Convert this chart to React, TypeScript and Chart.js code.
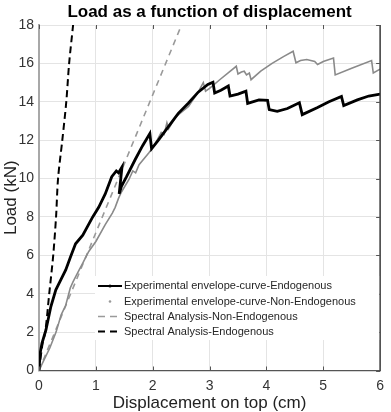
import { useEffect, useRef } from 'react';
import { Chart, registerables } from 'chart.js';

Chart.register(...registerables);

const FONT = '"Liberation Sans", Arial, Helvetica, sans-serif';

const titleText = 'Load as a function of displacement';
const xAxisTitle = 'Displacement on top (cm)';
const yAxisTitle = 'Load (kN)';

const xTicks = [0, 1, 2, 3, 4, 5, 6];
const yTicks = [0, 2, 4, 6, 8, 10, 12, 14, 16, 18];

const legendLabels = [
  'Experimental envelope-curve-Endogenous',
  'Experimental envelope-curve-Non-Endogenous',
  'Spectral Analysis-Non-Endogenous',
  'Spectral Analysis-Endogenous',
];

// Experimental envelope curve, endogenous specimen (cm, kN)
const expEndoX = [
  0, 0.02, 0.052, 0.122, 0.209, 0.296, 0.383, 0.47, 0.557, 0.643, 0.77, 0.945, 1.05, 1.165,
  1.28, 1.36, 1.4, 1.46, 1.41, 1.45, 1.54, 1.69, 1.82, 1.95, 1.98, 2.1, 2.28, 2.45, 2.63,
  2.8, 2.97, 3.06, 3.09, 3.2, 3.33, 3.36, 3.5, 3.64, 3.67, 3.87, 4.02, 4.05, 4.19, 4.37,
  4.58, 4.63, 4.9, 5.1, 5.32, 5.36, 5.6, 5.8, 6.0,
];
const expEndoY = [
  0, 0.9, 1.42, 2.11, 3.33, 4.2, 4.72, 5.24, 5.94, 6.6, 7.05, 8.0, 8.5, 9.2,
  10.1, 10.4, 10.3, 10.6, 9.2, 9.6, 10.1, 10.98, 11.7, 12.35, 11.55, 12.0, 12.72, 13.4, 13.94,
  14.5, 14.9, 15.02, 14.46, 14.6, 14.82, 14.3, 14.4, 14.55, 13.92, 14.1, 14.08, 13.59, 13.5, 13.65,
  13.95, 13.33, 13.7, 14.0, 14.28, 13.8, 14.1, 14.3, 14.4,
];

// Experimental envelope curve, non-endogenous specimen (cm, kN)
const expNonX = [
  0, 0.08, 0.19, 0.3, 0.39, 0.47, 0.55, 0.6, 0.7, 0.77, 0.875, 1.0, 1.165, 1.29, 1.34, 1.4,
  1.45, 1.58, 1.65, 1.7, 1.76, 1.93, 2.02, 2.15, 2.2, 2.25, 2.28, 2.4, 2.63, 2.8, 2.89, 2.93,
  3.0, 3.2, 3.47, 3.5, 3.56, 3.61, 3.65, 3.7, 3.73, 3.9, 4.1, 4.3, 4.47, 4.52, 4.6, 4.71,
  4.85, 4.9, 5.0, 5.18, 5.21, 5.5, 5.85, 5.88, 6.0,
];
const expNonY = [
  0, 0.5, 1.17, 2.0, 2.9, 3.4, 4.3, 4.63, 5.2, 5.59, 6.2, 6.72, 7.6, 8.2, 8.5, 8.98,
  9.3, 9.94, 10.4, 10.3, 10.72, 11.33, 11.68, 12.4, 12.3, 12.9, 12.6, 13.2, 13.76, 14.5, 15.0, 14.55,
  14.7, 15.2, 15.85, 15.45, 15.55, 15.59, 15.4, 15.5, 15.15, 15.6, 16.0, 16.35, 16.63, 16.03, 16.15, 16.2,
  16.1, 15.94, 16.1, 16.28, 15.4, 15.75, 16.15, 15.5, 15.7,
];

// Spectral analysis, non-endogenous model (cm, kN)
const specNonX = [0, 2.507];
const specNonY = [0, 18];

// Spectral analysis, endogenous model (cm, kN)
const specEndoX = [0, 0.064, 0.11, 0.18, 0.25, 0.3, 0.335, 0.41, 0.48, 0.53, 0.6];
const specEndoY = [0, 1.43, 2, 4, 6, 8, 10, 12, 14, 16, 18];

const toPoints = (xs: number[], ys: number[]) => xs.map((x, i) => ({ x, y: ys[i] }));

const decorPlugin = {
  id: 'decor',
  afterDraw(chart: any) {
    const { ctx, chartArea } = chart;
    const { left, right, top, bottom } = chartArea;
    const xs = chart.scales.x;
    const ys = chart.scales.y;
    ctx.save();

    // right frame line and inward tick marks
    ctx.strokeStyle = '#3a3a3a';
    ctx.lineWidth = 1.5;
    ctx.beginPath();
    ctx.moveTo(right, top);
    ctx.lineTo(right, bottom);
    ctx.stroke();
    ctx.lineWidth = 1;
    ctx.strokeStyle = '#555';
    ctx.beginPath();
    xTicks.forEach((v) => {
      const px = Math.round(xs.getPixelForValue(v)) + 0.5;
      ctx.moveTo(px, top);
      ctx.lineTo(px, top + 4);
      ctx.moveTo(px, bottom);
      ctx.lineTo(px, bottom - 4);
    });
    yTicks.forEach((v) => {
      const py = Math.round(ys.getPixelForValue(v)) + 0.5;
      ctx.moveTo(right, py);
      ctx.lineTo(right - 4, py);
    });
    ctx.stroke();

    // title
    ctx.fillStyle = '#000';
    ctx.font = `bold 17px ${FONT}`;
    ctx.textAlign = 'center';
    ctx.textBaseline = 'alphabetic';
    ctx.fillText(titleText, (left + right) / 2, 17);

    // legend
    const boxX = 95;
    const boxY = 276;
    ctx.fillStyle = '#fff';
    ctx.fillRect(boxX, boxY, right - boxX - 1, 64);
    const rows = [286, 301.5, 316.5, 331.5];
    const x0 = 98;
    const x1 = 122;
    const xc = (x0 + x1) / 2;

    ctx.setLineDash([]);
    ctx.strokeStyle = '#000';
    ctx.lineWidth = 2;
    ctx.beginPath();
    ctx.moveTo(x0, rows[0]);
    ctx.lineTo(x1, rows[0]);
    ctx.stroke();
    ctx.fillStyle = '#000';
    ctx.beginPath();
    ctx.arc(xc, rows[0], 1.6, 0, Math.PI * 2);
    ctx.fill();

    ctx.fillStyle = '#9a9a9a';
    ctx.beginPath();
    ctx.arc(xc, rows[1], 1.3, 0, Math.PI * 2);
    ctx.fill();

    ctx.setLineDash([7, 5]);
    ctx.strokeStyle = '#9a9a9a';
    ctx.lineWidth = 1.6;
    ctx.beginPath();
    ctx.moveTo(x0, rows[2]);
    ctx.lineTo(x1, rows[2]);
    ctx.stroke();

    ctx.strokeStyle = '#000';
    ctx.lineWidth = 2;
    ctx.beginPath();
    ctx.moveTo(x0, rows[3]);
    ctx.lineTo(x1, rows[3]);
    ctx.stroke();
    ctx.setLineDash([]);

    ctx.fillStyle = '#262626';
    ctx.font = `11px ${FONT}`;
    ctx.textAlign = 'left';
    ctx.textBaseline = 'middle';
    legendLabels.forEach((t, i) => ctx.fillText(t, x1 + 2, rows[i]));

    ctx.restore();
  },
};

export default function App() {
  const ref = useRef<HTMLCanvasElement>(null);

  useEffect(() => {
    if (!ref.current) return;
    const chart = new Chart(ref.current, {
      type: 'scatter',
      data: {
        datasets: [
          {
            label: legendLabels[0],
            data: toPoints(expEndoX, expEndoY),
            showLine: true,
            borderColor: '#000',
            borderWidth: 2.8,
            pointRadius: 0,
            tension: 0,
          },
          {
            label: legendLabels[1],
            data: toPoints(expNonX, expNonY),
            showLine: true,
            borderColor: '#8a8a8a',
            borderWidth: 1.6,
            pointRadius: 0,
            tension: 0,
          },
          {
            label: legendLabels[2],
            data: toPoints(specNonX, specNonY),
            showLine: true,
            borderColor: '#9a9a9a',
            borderWidth: 1.6,
            borderDash: [6, 5],
            pointRadius: 0,
          },
          {
            label: legendLabels[3],
            data: toPoints(specEndoX, specEndoY),
            showLine: true,
            borderColor: '#000',
            borderWidth: 2,
            borderDash: [7, 4],
            pointRadius: 0,
            tension: 0.3,
          },
        ],
      },
      options: {
        responsive: false,
        animation: false,
        devicePixelRatio: 1,
        layout: { padding: { top: 25, right: 7, left: 0, bottom: 0 } },
        plugins: {
          legend: { display: false },
          title: { display: false },
          tooltip: { enabled: false },
        },
        scales: {
          x: {
            type: 'linear',
            min: 0,
            max: 6,
            afterFit: (s: any) => {
              s.height = 41.5;
            },
            afterBuildTicks: (s: any) => {
              s.ticks = xTicks.map((v) => ({ value: v }));
            },
            ticks: {
              font: { family: FONT, size: 14 },
              color: '#333',
              padding: 7,
              maxRotation: 0,
            },
            grid: { color: '#e4e4e4', lineWidth: 1, drawTicks: false },
            border: { color: '#555', width: 1.2 },
            title: {
              display: true,
              text: xAxisTitle,
              font: { family: FONT, size: 17, lineHeight: 1 },
              color: '#222',
              padding: { top: 0, bottom: 0 },
            },
          },
          y: {
            type: 'linear',
            min: 0,
            max: 18,
            afterFit: (s: any) => {
              s.width = 39;
            },
            afterBuildTicks: (s: any) => {
              s.ticks = yTicks.map((v) => ({ value: v }));
            },
            ticks: {
              font: { family: FONT, size: 14 },
              color: '#333',
              padding: 5,
            },
            grid: { color: '#e4e4e4', lineWidth: 1, drawTicks: false },
            border: { color: '#a8a8a8', width: 2 },
            title: {
              display: true,
              text: yAxisTitle,
              font: { family: FONT, size: 17, lineHeight: 1 },
              color: '#222',
              padding: { top: 3, bottom: 0 },
            },
          },
        },
      },
      plugins: [decorPlugin],
    });
    return () => chart.destroy();
  }, []);

  return (
    <div style={{ position: 'fixed', left: 0, top: 0, width: 391, height: 412, background: '#fff' }}>
      <canvas ref={ref} width={391} height={412} style={{ display: 'block' }} />
    </div>
  );
}
